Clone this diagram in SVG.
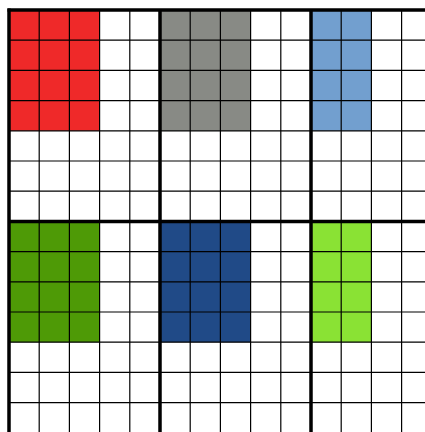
<svg xmlns="http://www.w3.org/2000/svg" width="425" height="432" viewBox="0 0 425 432">
<style>
.thin{stroke:#000;stroke-width:1.2;fill:none}
.thick{stroke:#000;stroke-width:3.5;fill:none}
</style>
<rect width="425" height="432" fill="#fff"/>
<g id="blocks">
<rect x="9" y="10" width="90.6" height="120.8" fill="#EF2929"/>
<rect x="160" y="10" width="90.6" height="120.8" fill="#888A85"/>
<rect x="311" y="10" width="60.4" height="120.8" fill="#729FCF"/>
<rect x="9" y="221.4" width="90.6" height="120.8" fill="#4E9A06"/>
<rect x="160" y="221.4" width="90.6" height="120.8" fill="#204A87"/>
<rect x="311" y="221.4" width="60.4" height="120.8" fill="#8AE234"/>
</g>
<g id="grid-thin" class="thin">
<path d="M39.2 10V432M69.4 10V432M99.6 10V432M129.8 10V432M190.2 10V432M220.4 10V432M250.6 10V432M280.8 10V432M341.2 10V432M371.4 10V432M401.6 10V432"/>
<path d="M9 40.2H425M9 70.4H425M9 100.6H425M9 130.8H425M9 161H425M9 191.2H425M9 251.6H425M9 281.8H425M9 312H425M9 342.2H425M9 372.4H425M9 402.6H425"/>
</g>
<g id="grid-thick" class="thick">
<path d="M9 8.5V432M160 10V432M311 10V432"/>
<path d="M7.5 10H425M9 221.4H425"/>
</g>
</svg>
